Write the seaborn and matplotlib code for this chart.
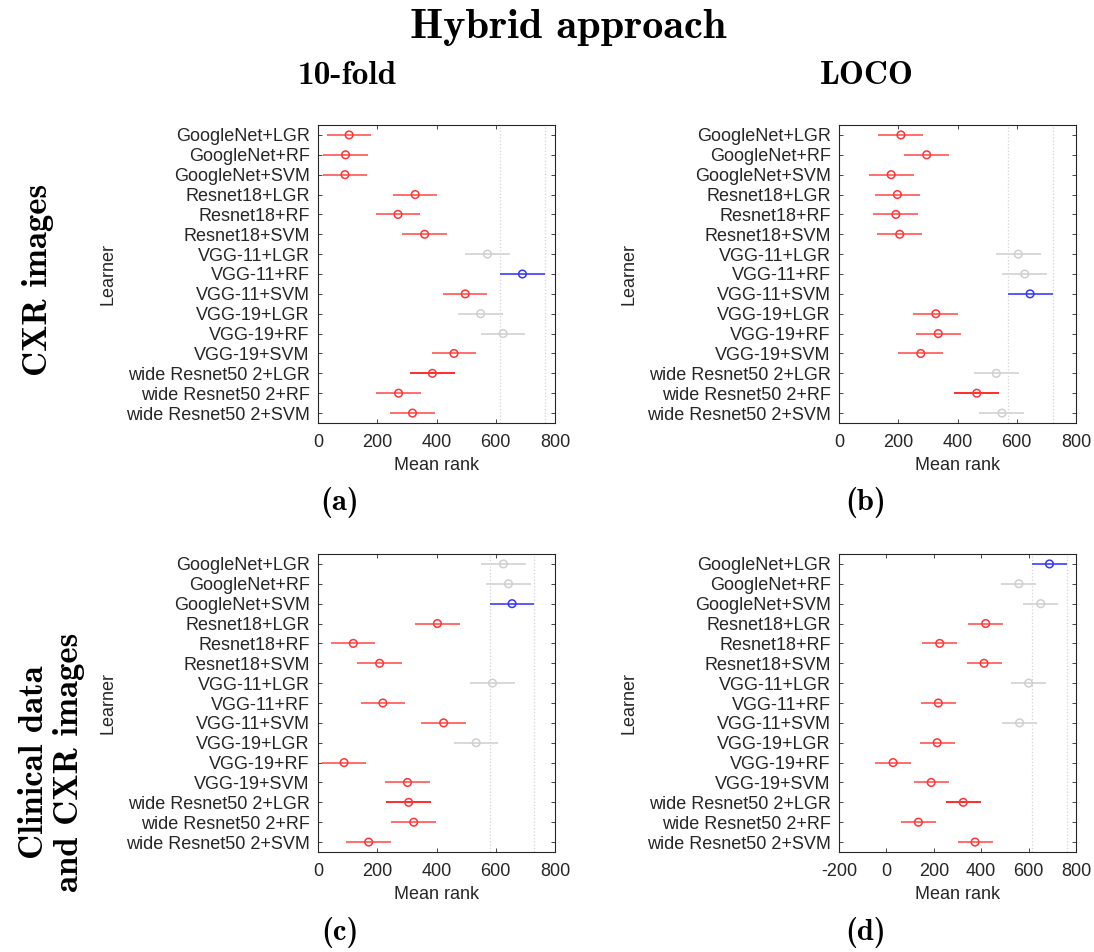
import os
import numpy as np
import pandas as pd
import matplotlib
matplotlib.use("Agg")
import matplotlib.pyplot as plt
from matplotlib.font_manager import FontProperties
import seaborn as sns

learners = ["GoogleNet+LGR", "GoogleNet+RF", "GoogleNet+SVM",
            "Resnet18+LGR", "Resnet18+RF", "Resnet18+SVM",
            "VGG-11+LGR", "VGG-11+RF", "VGG-11+SVM",
            "VGG-19+LGR", "VGG-19+RF", "VGG-19+SVM",
            "wide Resnet50 2+LGR", "wide Resnet50 2+RF", "wide Resnet50 2+SVM"]

# mean ranks
mean_a = [105, 93, 91, 328, 270, 360, 572, 690, 497, 549, 625, 459, 386, 272, 319]
mean_b = [209, 296, 176, 197, 192, 205, 605, 627, 645, 327, 335, 276, 531, 465, 550]
mean_c = [626, 643, 655, 403, 119, 208, 589, 219, 424, 534, 88, 302, 306, 323, 171]
mean_d = [688, 559, 651, 419, 225, 412, 600, 219, 562, 214, 28, 189, 324, 135, 374]

# best = blue, sig = significantly different (red), ns = not significant (gray)
group_a = ["sig"] * 6 + ["ns", "best", "sig", "ns", "ns", "sig", "sig", "sig", "sig"]
group_b = ["sig"] * 6 + ["ns", "ns", "best", "sig", "sig", "sig", "ns", "sig", "ns"]
group_c = ["ns", "ns", "best", "sig", "sig", "sig", "ns", "sig", "sig",
           "ns", "sig", "sig", "sig", "sig", "sig"]
group_d = ["best", "ns", "ns", "sig", "sig", "sig", "ns", "sig", "ns",
           "sig", "sig", "sig", "sig", "sig", "sig"]

half_width = [75, 76, 75, 74]
ticks_abc = [0, 200, 400, 600, 800]
ticks_d = [-200, 0, 200, 400, 600, 800]

marker_pal = {"sig": "#ff3535", "best": "#3535ff", "ns": "#cfcfcf"}
line_pal = {"sig": "#ff6262", "best": "#4b4bff", "ns": "#d6d6d6"}

sns.set_theme(style="white")
plt.rcParams["font.family"] = ["Liberation Sans", "DejaVu Sans"]
plt.rcParams["axes.unicode_minus"] = False

W, H = 1094, 952
fig = plt.figure(figsize=(W / 100, H / 100), dpi=100)

panels = [
    (mean_a, group_a, half_width[0], ticks_abc, (318, 125), 12),
    (mean_b, group_b, half_width[1], ticks_abc, (839, 125), 13),
    (mean_c, group_c, half_width[2], ticks_abc, (318, 554), 12),
    (mean_d, group_d, half_width[3], ticks_d, (839, 554), 12),
]

ink = "#262626"
for means, groups, hw, ticks, (px, py), emph in panels:
    ax = fig.add_axes([px / W, 1 - (py + 298) / H, 237 / W, 298 / H])
    df = pd.DataFrame({"learner": learners, "mean": means, "group": groups})
    df["pos"] = np.arange(len(df))
    df["lo"] = df["mean"] - hw
    df["hi"] = df["mean"] + hw

    best = df[df["group"] == "best"].iloc[0]
    for xv in (best["lo"], best["hi"]):
        ax.axvline(xv, color="#d4d4d4", ls=":", lw=0.9, zorder=1)

    colors = [line_pal[g] for g in df["group"]]
    colors[emph] = "#ff1a1a"
    ax.hlines(df["pos"], df["lo"], df["hi"], colors=colors, lw=1.3, zorder=2)

    sns.scatterplot(data=df, x="mean", y="pos", hue="group", palette=marker_pal,
                    s=30, legend=False, ax=ax, zorder=3)
    coll = ax.collections[-1]
    fc = coll.get_facecolors()
    coll.set_facecolors("none")
    coll.set_edgecolors(fc)
    coll.set_linewidths(1.1)

    ax.set_xlim(ticks[0], ticks[-1])
    ax.set_ylim(len(df) - 0.5, -0.5)
    ax.set_xticks(ticks)
    ax.set_yticks(df["pos"], df["learner"])
    ax.tick_params(direction="in", top=True, right=True, bottom=True, left=True,
                   length=3, width=0.6, color=ink, labelcolor=ink, labelsize=13)
    ax.tick_params(axis="x", pad=8)
    ax.tick_params(axis="y", pad=6)
    for sp in ax.spines.values():
        sp.set_visible(True)
        sp.set_color(ink)
        sp.set_linewidth(0.8)

    ax.set_xlabel("Mean rank", fontsize=13, color=ink)
    ax.set_ylabel("Learner", fontsize=13, color=ink)
    ax.xaxis.label.set_va("center")
    ax.xaxis.set_label_coords(0.5, -0.141)
    ax.yaxis.label.set_va("center")
    ax.yaxis.set_label_coords(-0.888, 0.5)

# bold Computer Modern that ships with matplotlib
cmb = os.path.join(matplotlib.get_data_path(), "fonts", "ttf", "cmb10.ttf")


def cm_text(x, y, s, size, **kw):
    fig.text(x / W, 1 - y / H, s, ha="center", va="center", color="black",
             fontproperties=FontProperties(fname=cmb, size=size), **kw)


cm_text(568, 28, "Hybrid approach", 30.5)
cm_text(347, 75, "10-fold", 24)
cm_text(867, 75, "LOCO", 24)
for lbl, (x, y) in zip(["(a)", "(b)", "(c)", "(d)"],
                       [(340, 503), (866, 503), (340, 933), (866, 933)]):
    cm_text(x, y, lbl, 22)
cm_text(38, 280, "CXR images", 25, rotation=90)
cm_text(52, 762, "Clinical data\nand CXR images", 25, rotation=90, linespacing=1.1)

fig.savefig("out.png", dpi=100)
